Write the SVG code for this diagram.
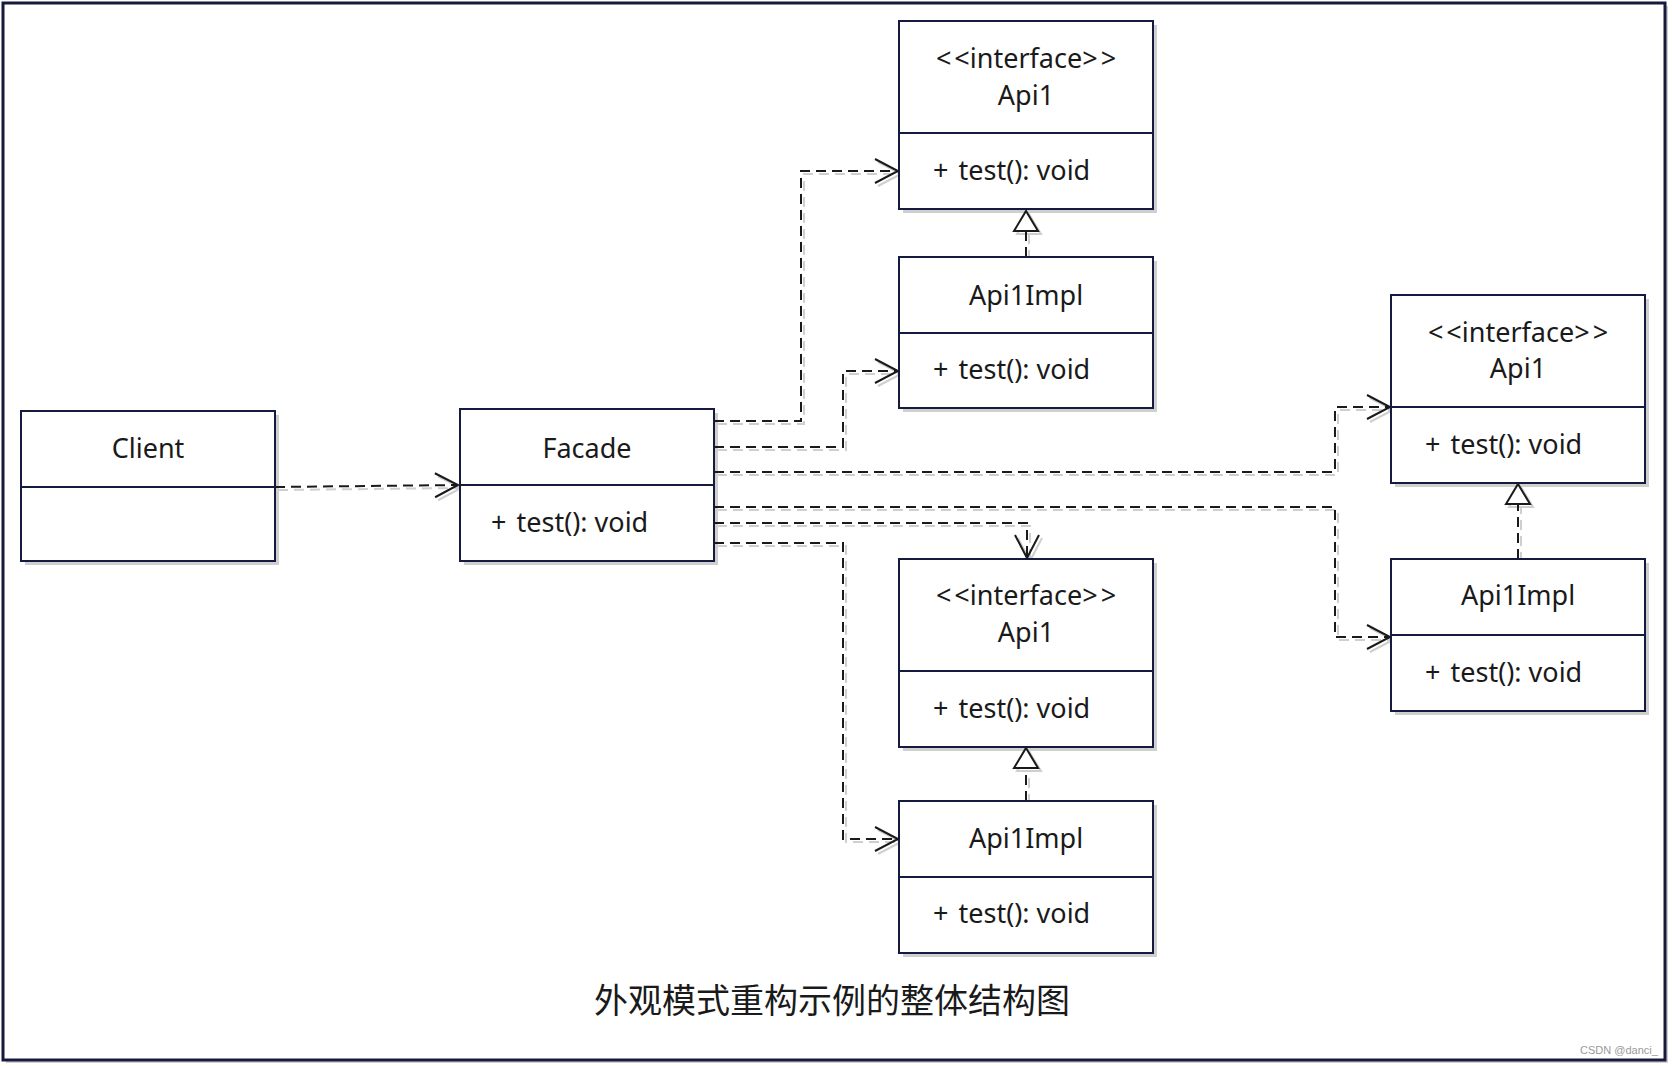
<svg xmlns="http://www.w3.org/2000/svg" width="1672" height="1068" viewBox="0 0 1672 1068">
<style>
.frame{fill:#fff;stroke:#161a3c;stroke-width:3}
.box{fill:#fff;stroke:#141a40;stroke-width:2}
.shd{fill:#cfcfcf;stroke:none}
.div{stroke:#141a40;stroke-width:2}
.t{font-family:"Noto Sans","Open Sans","DejaVu Sans",sans-serif;font-size:27px;fill:#1a1a1a}
.c{text-anchor:middle}
.dep{fill:none;stroke:#1a1a1a;stroke-width:2;stroke-dasharray:10 6}
.dsh{fill:none;stroke:#cfcfcf;stroke-width:2;stroke-dasharray:10 6}
.cap{font-family:"Noto Sans CJK SC","Noto Sans",sans-serif;font-size:34px;fill:#1a1a1a;text-anchor:middle}
.wm{font-family:"Liberation Sans",Arial,sans-serif;font-size:11px;fill:#9a9a9a}
</style>
<defs>
<marker id="open" markerUnits="userSpaceOnUse" markerWidth="30" markerHeight="30" viewBox="-26 -15 30 30" refX="0" refY="0" orient="auto">
<path d="M-23,-12 L0,0 L-23,12" fill="none" stroke="#1a1a1a" stroke-width="2" stroke-dasharray="none"/>
</marker>
<marker id="openS" markerUnits="userSpaceOnUse" markerWidth="30" markerHeight="30" viewBox="-26 -15 30 30" refX="0" refY="0" orient="auto">
<path d="M-23,-12 L0,0 L-23,12" fill="none" stroke="#cfcfcf" stroke-width="2" stroke-dasharray="none"/>
</marker>
<marker id="tri" markerUnits="userSpaceOnUse" markerWidth="30" markerHeight="30" viewBox="-24 -15 30 30" refX="0" refY="0" orient="auto">
<path d="M-20,-12 L0,0 L-20,12 Z" fill="#fff" stroke="#1a1a1a" stroke-width="2" stroke-dasharray="none"/>
</marker>
<marker id="triS" markerUnits="userSpaceOnUse" markerWidth="30" markerHeight="30" viewBox="-24 -15 30 30" refX="0" refY="0" orient="auto">
<path d="M-20,-12 L0,0 L-20,12 Z" fill="#fff" stroke="#cfcfcf" stroke-width="2" stroke-dasharray="none"/>
</marker>
</defs>

<rect x="6" y="6" width="1662" height="1057" fill="#d0d0d0"/>
<rect class="frame" x="3" y="3" width="1662" height="1057"/>

<g id="connectors-shadow" transform="translate(3,3)">
<path class="dsh" d="M275,487 L458,485" marker-end="url(#openS)"/>
<path class="dsh" d="M714,421 H801 V171 H898" marker-end="url(#openS)"/>
<path class="dsh" d="M714,447 H843 V371 H898" marker-end="url(#openS)"/>
<path class="dsh" d="M714,472 H1335 V407 H1390" marker-end="url(#openS)"/>
<path class="dsh" d="M714,507 H1335 V637 H1390" marker-end="url(#openS)"/>
<path class="dsh" d="M714,523 H1027 V558" marker-end="url(#openS)"/>
<path class="dsh" d="M714,543 H843 V839 H898" marker-end="url(#openS)"/>
<path class="dsh" d="M1026,257 V211" marker-end="url(#triS)"/>
<path class="dsh" d="M1518,559 V484" marker-end="url(#triS)"/>
<path class="dsh" d="M1026,801 V748" marker-end="url(#triS)"/>
</g>

<g id="Client">
<rect class="shd" x="25" y="415" width="254" height="150"/>
<rect class="box" x="21" y="411" width="254" height="150"/>
<line class="div" x1="21" y1="487" x2="275" y2="487"/>
<text class="t c" x="148" y="458">Client</text>
</g>

<g id="Facade">
<rect class="shd" x="464" y="413" width="254" height="152"/>
<rect class="box" x="460" y="409" width="254" height="152"/>
<line class="div" x1="460" y1="485" x2="714" y2="485"/>
<text class="t c" x="587" y="458">Facade</text>
<text class="t" x="491" y="532">+<tspan dx="3"> test(): void</tspan></text>
</g>

<g id="Api1-top">
<rect class="shd" x="903" y="25" width="254" height="188"/>
<rect class="box" x="899" y="21" width="254" height="188"/>
<line class="div" x1="899" y1="133" x2="1153" y2="133"/>
<text class="t c" x="1026" y="68">&lt;<tspan dx="3">&lt;interface&gt;</tspan><tspan dx="3">&gt;</tspan></text>
<text class="t c" x="1026" y="105">Api1</text>
<text class="t" x="933" y="180">+<tspan dx="3"> test(): void</tspan></text>
</g>

<g id="Api1Impl-top">
<rect class="shd" x="903" y="261" width="254" height="151"/>
<rect class="box" x="899" y="257" width="254" height="151"/>
<line class="div" x1="899" y1="333" x2="1153" y2="333"/>
<text class="t c" x="1026" y="305">Api1Impl</text>
<text class="t" x="933" y="379">+<tspan dx="3"> test(): void</tspan></text>
</g>

<g id="Api1-right">
<rect class="shd" x="1395" y="299" width="254" height="188"/>
<rect class="box" x="1391" y="295" width="254" height="188"/>
<line class="div" x1="1391" y1="407" x2="1645" y2="407"/>
<text class="t c" x="1518" y="342">&lt;<tspan dx="3">&lt;interface&gt;</tspan><tspan dx="3">&gt;</tspan></text>
<text class="t c" x="1518" y="378">Api1</text>
<text class="t" x="1425" y="454">+<tspan dx="3"> test(): void</tspan></text>
</g>

<g id="Api1Impl-right">
<rect class="shd" x="1395" y="563" width="254" height="152"/>
<rect class="box" x="1391" y="559" width="254" height="152"/>
<line class="div" x1="1391" y1="635" x2="1645" y2="635"/>
<text class="t c" x="1518" y="605">Api1Impl</text>
<text class="t" x="1425" y="682">+<tspan dx="3"> test(): void</tspan></text>
</g>

<g id="Api1-bottom">
<rect class="shd" x="903" y="563" width="254" height="188"/>
<rect class="box" x="899" y="559" width="254" height="188"/>
<line class="div" x1="899" y1="671" x2="1153" y2="671"/>
<text class="t c" x="1026" y="605">&lt;<tspan dx="3">&lt;interface&gt;</tspan><tspan dx="3">&gt;</tspan></text>
<text class="t c" x="1026" y="642">Api1</text>
<text class="t" x="933" y="718">+<tspan dx="3"> test(): void</tspan></text>
</g>

<g id="Api1Impl-bottom">
<rect class="shd" x="903" y="805" width="254" height="152"/>
<rect class="box" x="899" y="801" width="254" height="152"/>
<line class="div" x1="899" y1="877" x2="1153" y2="877"/>
<text class="t c" x="1026" y="848">Api1Impl</text>
<text class="t" x="933" y="923">+<tspan dx="3"> test(): void</tspan></text>
</g>

<g id="connectors">
<path class="dep" d="M275,487 L458,485" marker-end="url(#open)"/>
<path class="dep" d="M714,421 H801 V171 H898" marker-end="url(#open)"/>
<path class="dep" d="M714,447 H843 V371 H898" marker-end="url(#open)"/>
<path class="dep" d="M714,472 H1335 V407 H1390" marker-end="url(#open)"/>
<path class="dep" d="M714,507 H1335 V637 H1390" marker-end="url(#open)"/>
<path class="dep" d="M714,523 H1027 V558" marker-end="url(#open)"/>
<path class="dep" d="M714,543 H843 V839 H898" marker-end="url(#open)"/>
<path class="dep" d="M1026,257 V211" marker-end="url(#tri)"/>
<path class="dep" d="M1518,559 V484" marker-end="url(#tri)"/>
<path class="dep" d="M1026,801 V748" marker-end="url(#tri)"/>
</g>

<text class="cap" x="832" y="1013">外观模式重构示例的整体结构图</text>
<text class="wm" x="1580" y="1054">CSDN @danci_</text>
</svg>
